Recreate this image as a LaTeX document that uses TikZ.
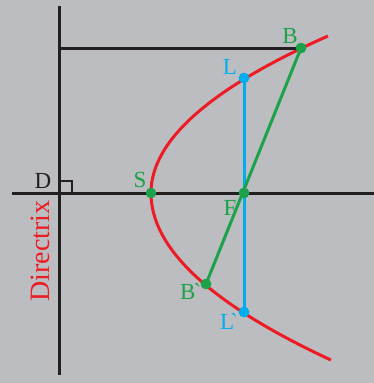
\documentclass[tikz,border=0pt]{standalone}
\usepackage{fontspec}
\setmainfont{Liberation Serif}[Ligatures=TeXOff]
\definecolor{bg}{HTML}{BCBDC0}
\definecolor{pred}{HTML}{ED1C24}
\definecolor{pgreen}{HTML}{1BA24A}
\definecolor{pblue}{HTML}{00AEEF}
\definecolor{pblack}{HTML}{231F20}
\begin{document}
\begin{tikzpicture}[x=1pt,y=-1pt,
  blk/.style={draw=pblack,line width=3pt},
  gdot/.style={circle,fill=pgreen,inner sep=0pt,minimum size=10.5pt},
  bdot/.style={circle,fill=pblue,inner sep=0pt,minimum size=10.5pt},
  lbl/.style={font=\fontsize{23}{23}\selectfont,inner sep=0pt}]
\fill[bg] (0,0) rectangle (374,383);
\useasboundingbox (0,0) rectangle (374,383);
% directrix and axis
\coordinate (dtop) at (59,6);
\coordinate (dbot) at (59,375);
\coordinate (aleft) at (12,193);
\coordinate (aright) at (374,193);
\coordinate (Dp) at (59,193);
\coordinate (Bf) at (59,48);
\draw[blk] (dtop) -- (dbot);
\draw[blk] (aleft) -- (aright);
\draw[draw=pblack,line width=1.2pt] (59,181) -- (72,181) -- (72,193);
% parabola
\draw[pred,line width=3pt] plot[domain=-15.7:0,samples=60,smooth] ({151+0.718*\x*\x},{193+10*\x});
\draw[pred,line width=3pt] plot[domain=0:16.7,samples=60,smooth] ({151+0.645*\x*\x},{193+10*\x});
% points
\node[gdot] (S) at (151,193) {};
\node[gdot] (F) at (244,193) {};
\node[gdot] (B) at (301,48) {};
\node[gdot] (B2) at (206,284) {};
\node[bdot] (L) at (244,78) {};
\node[bdot] (L2) at (244,312) {};
\draw[blk] (Bf) -- (B.center);
\draw[pblue,line width=3pt] (L.center) -- (L2.center);
\draw[pgreen,line width=3pt] (B.center) -- (B2.center);
\node[gdot] at (F) {};
\node[gdot] at (B) {};
\node[bdot] at (L) {};
\node[bdot] at (L2) {};
\node[gdot] at (B2) {};
% labels
\node[lbl,text=pblack] (Dl) at (43,181) {D};
\node[lbl,text=pgreen] (Sl) at (140,180) {S};
\node[lbl,text=pgreen] (Fl) at (230,208) {F};
\node[lbl,text=pgreen] (Bl) at (290,36) {B};
\node[lbl,text=pblue] (Ll) at (230,67) {L};
\node[lbl,text=pgreen,anchor=west] (B2l) at (180,292) {B\kern-2pt\char96};
\node[lbl,text=pblue,anchor=west] (L2l) at (220,321) {L\kern-4pt\char96};
\node[text=pred,font=\fontsize{28}{28}\selectfont,inner sep=0pt,rotate=90] (dir) at (40,251) {Directrix};
\end{tikzpicture}
\end{document}
